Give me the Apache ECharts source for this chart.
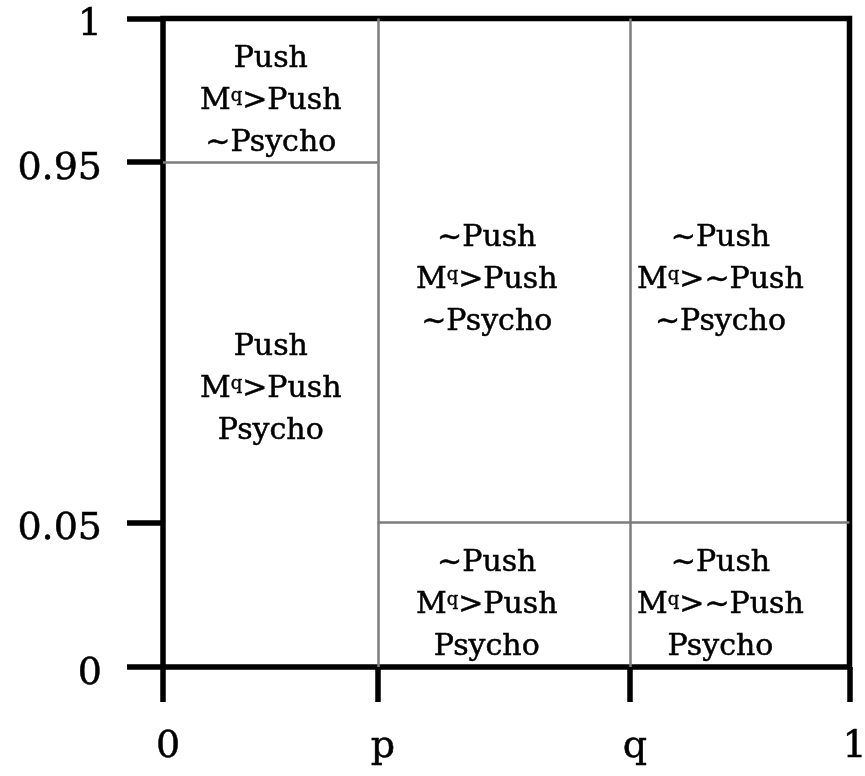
<!DOCTYPE html>
<html>
<head>
<meta charset="utf-8">
<script src="https://cdn.jsdelivr.net/npm/echarts@6/dist/echarts.min.js"></script>
<style>
html,body{margin:0;padding:0;background:#fff;}
#chart{width:865px;height:776px;}
</style>
</head>
<body>
<div id="chart"></div>
<script>
// Tick values (real scale) and their labels
const yTickValues = [0, 0.05, 0.95, 1];
const yTickLabels = ['0', '0.05', '0.95', '1'];
// Display fraction of each y tick along the (non-linear) y axis
const yTickDisplay = [0, 0.2227, 0.7789, 1];
const xTickValues = [0, 0.313, 0.68, 1];   // positions of 0, p, q, 1
const xTickLabels = ['0', 'p', 'q', '1'];

// Region boundary segments: [x1, y1, x2, y2] in real values
const boundaries = [
  [0.313, 0, 0.313, 1],
  [0.68, 0, 0.68, 1],
  [0, 0.95, 0.313, 0.95],
  [0.313, 0.05, 1, 0.05]
];

// Cell texts and anchor points
const cellTexts = [
  ['Push', 'M{q|q}>Push', '~Psycho'],
  ['Push', 'M{q|q}>Push', 'Psycho'],
  ['~Push', 'M{q|q}>Push', '~Psycho'],
  ['~Push', 'M{q|q}>~Push', '~Psycho'],
  ['~Push', 'M{q|q}>Push', 'Psycho'],
  ['~Push', 'M{q|q}>~Push', 'Psycho']
];
const cellX = [0.157, 0.157, 0.4716, 0.812, 0.4716, 0.812];
const cellY = [0.9712, 0.3826, 0.655, 0.655, 0.0214, 0.0214];

function toDisp(v) {
  for (let i = 0; i < yTickValues.length - 1; i++) {
    const a = yTickValues[i], b = yTickValues[i + 1];
    if (v <= b || i === yTickValues.length - 2) {
      const t = (v - a) / (b - a);
      return yTickDisplay[i] + t * (yTickDisplay[i + 1] - yTickDisplay[i]);
    }
  }
  return v;
}

const FONT = 'DejaVu Serif';
const chart = echarts.init(document.getElementById('chart'), null, {renderer: 'canvas'});

const lineData = boundaries.map(s => ({coords: [[s[0], toDisp(s[1])], [s[2], toDisp(s[3])]]}));
const textData = cellTexts.map((t, i) => ({value: [cellX[i], toDisp(cellY[i])], name: t.join('\n')}));

chart.setOption({
  animation: false,
  backgroundColor: '#fff',
  grid: {
    left: 163, right: 15.5, top: 18.5, bottom: 109,
    outerBoundsMode: 'none', containLabel: false,
    show: true, borderColor: '#000', borderWidth: 5.5, backgroundColor: 'transparent'
  },
  xAxis: {
    type: 'value', min: 0, max: 1,
    axisLine: {show: false},
    splitLine: {show: false},
    axisTick: {show: true, customValues: xTickValues, length: 35, lineStyle: {color: '#000', width: 5.5}},
    axisLabel: {
      customValues: xTickValues,
      formatter: v => { const i = xTickValues.findIndex(x => Math.abs(x - v) < 1e-6); return i >= 0 ? xTickLabels[i] : ''; },
      fontFamily: FONT, fontSize: 38, color: '#000', margin: 61, padding: [0, 0, 0, 10],
      textBorderColor: '#000', textBorderWidth: 0.5
    }
  },
  yAxis: {
    type: 'value', min: 0, max: 1,
    axisLine: {show: false},
    splitLine: {show: false},
    axisTick: {show: true, customValues: yTickDisplay, length: 36, lineStyle: {color: '#000', width: 5.5}},
    axisLabel: {
      customValues: yTickDisplay,
      formatter: v => { const i = yTickDisplay.findIndex(x => Math.abs(x - v) < 1e-6); return i >= 0 ? '{t|' + yTickLabels[i] + '}' : ''; },
      margin: 61,
      rich: {t: {fontFamily: FONT, fontSize: 38, color: '#000', padding: [14, 0, 0, 0], textBorderColor: '#000', textBorderWidth: 0.5}}
    }
  },
  series: [
    {
      type: 'lines', coordinateSystem: 'cartesian2d', silent: true,
      lineStyle: {color: '#7c7c7c', width: 2.5, opacity: 1},
      data: lineData, z: 1
    },
    {
      type: 'scatter', symbolSize: 0, silent: true,
      itemStyle: {opacity: 1},
      data: textData,
      label: {
        show: true, position: 'inside', formatter: p => p.name, opacity: 1,
        fontFamily: FONT, fontSize: 30, lineHeight: 42, color: '#000', align: 'center',
        textBorderColor: '#000', textBorderWidth: 0.5,
        rich: {q: {fontFamily: FONT, fontSize: 18, lineHeight: 42, verticalAlign: 'middle', padding: [0, 0, 10, 0], color: '#000', textBorderColor: '#000', textBorderWidth: 0.4}}
      },
      z: 3
    }
  ]
});
</script>
</body>
</html>
